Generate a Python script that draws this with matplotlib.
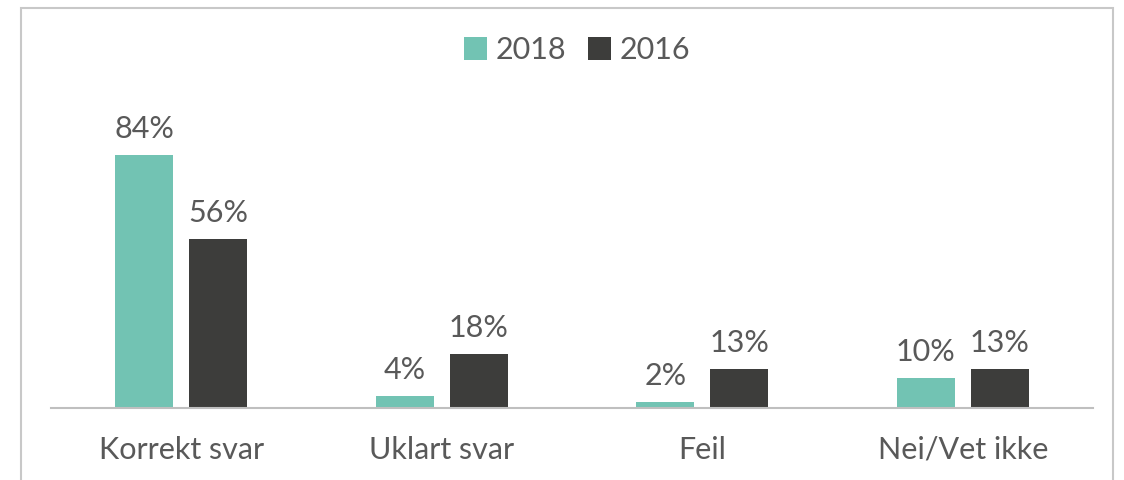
import numpy as np
import matplotlib.pyplot as plt
from matplotlib.patches import Rectangle

categories = ["Korrekt svar", "Uklart svar", "Feil", "Nei/Vet ikke"]
series_names = ["2018", "2016"]
values_2018 = [84, 4, 2, 10]
values_2016 = [56, 18, 13, 13]

teal = "#72C3B3"
dark = "#3D3D3B"
text_color = "#595959"

plt.rcParams['font.family'] = ['Lato', 'DejaVu Sans']

W, H = 1124, 480
fig = plt.figure(figsize=(W / 100, H / 100), dpi=100)

# axes placed in pixel units
left, right, bottom, top = 51, 1093, H - 408, H - 100
ax = fig.add_axes([left / W, bottom / H, (right - left) / W, (top - bottom) / H])

x = np.arange(len(categories))
bw = 58 / 260.5
gap = 16 / 260.5
b1 = ax.bar(x - (bw + gap) / 2, values_2018, bw, color=teal, label=series_names[0])
b2 = ax.bar(x + (bw + gap) / 2, values_2016, bw, color=dark, label=series_names[1])

for bars in (b1, b2):
    for rect in bars:
        h = rect.get_height()
        ax.text(rect.get_x() + rect.get_width() / 2, h + 4, f"{h:.0f}%",
                ha="center", va="bottom", fontsize=22, color=text_color)

ax.set_xlim(-0.5, len(categories) - 0.5)
ax.set_ylim(0, (top - bottom) / 3.01)
ax.set_yticks([])
ax.set_xticks(x)
ax.set_xticklabels(categories, fontsize=22, color=text_color)
ax.tick_params(axis="x", length=0, pad=20)
for s in ["top", "right", "left"]:
    ax.spines[s].set_visible(False)
ax.spines["bottom"].set_color("#BFBFBF")
ax.spines["bottom"].set_linewidth(1.5)

leg = fig.legend(loc="center", bbox_to_anchor=(577 / W, 1 - 50 / H), ncol=2,
                 frameon=False, fontsize=22, handlelength=0.75, handleheight=0.75,
                 handletextpad=0.3, columnspacing=0.7)
for t in leg.get_texts():
    t.set_color(text_color)

# outer chart border
fig.patches.append(Rectangle((21 / W, -0.05), (1113 - 21) / W, 1.05 - 8 / H,
                             transform=fig.transFigure, fill=False,
                             edgecolor="#C8C8C8", linewidth=1.5))

fig.savefig("out.png", dpi=100)
